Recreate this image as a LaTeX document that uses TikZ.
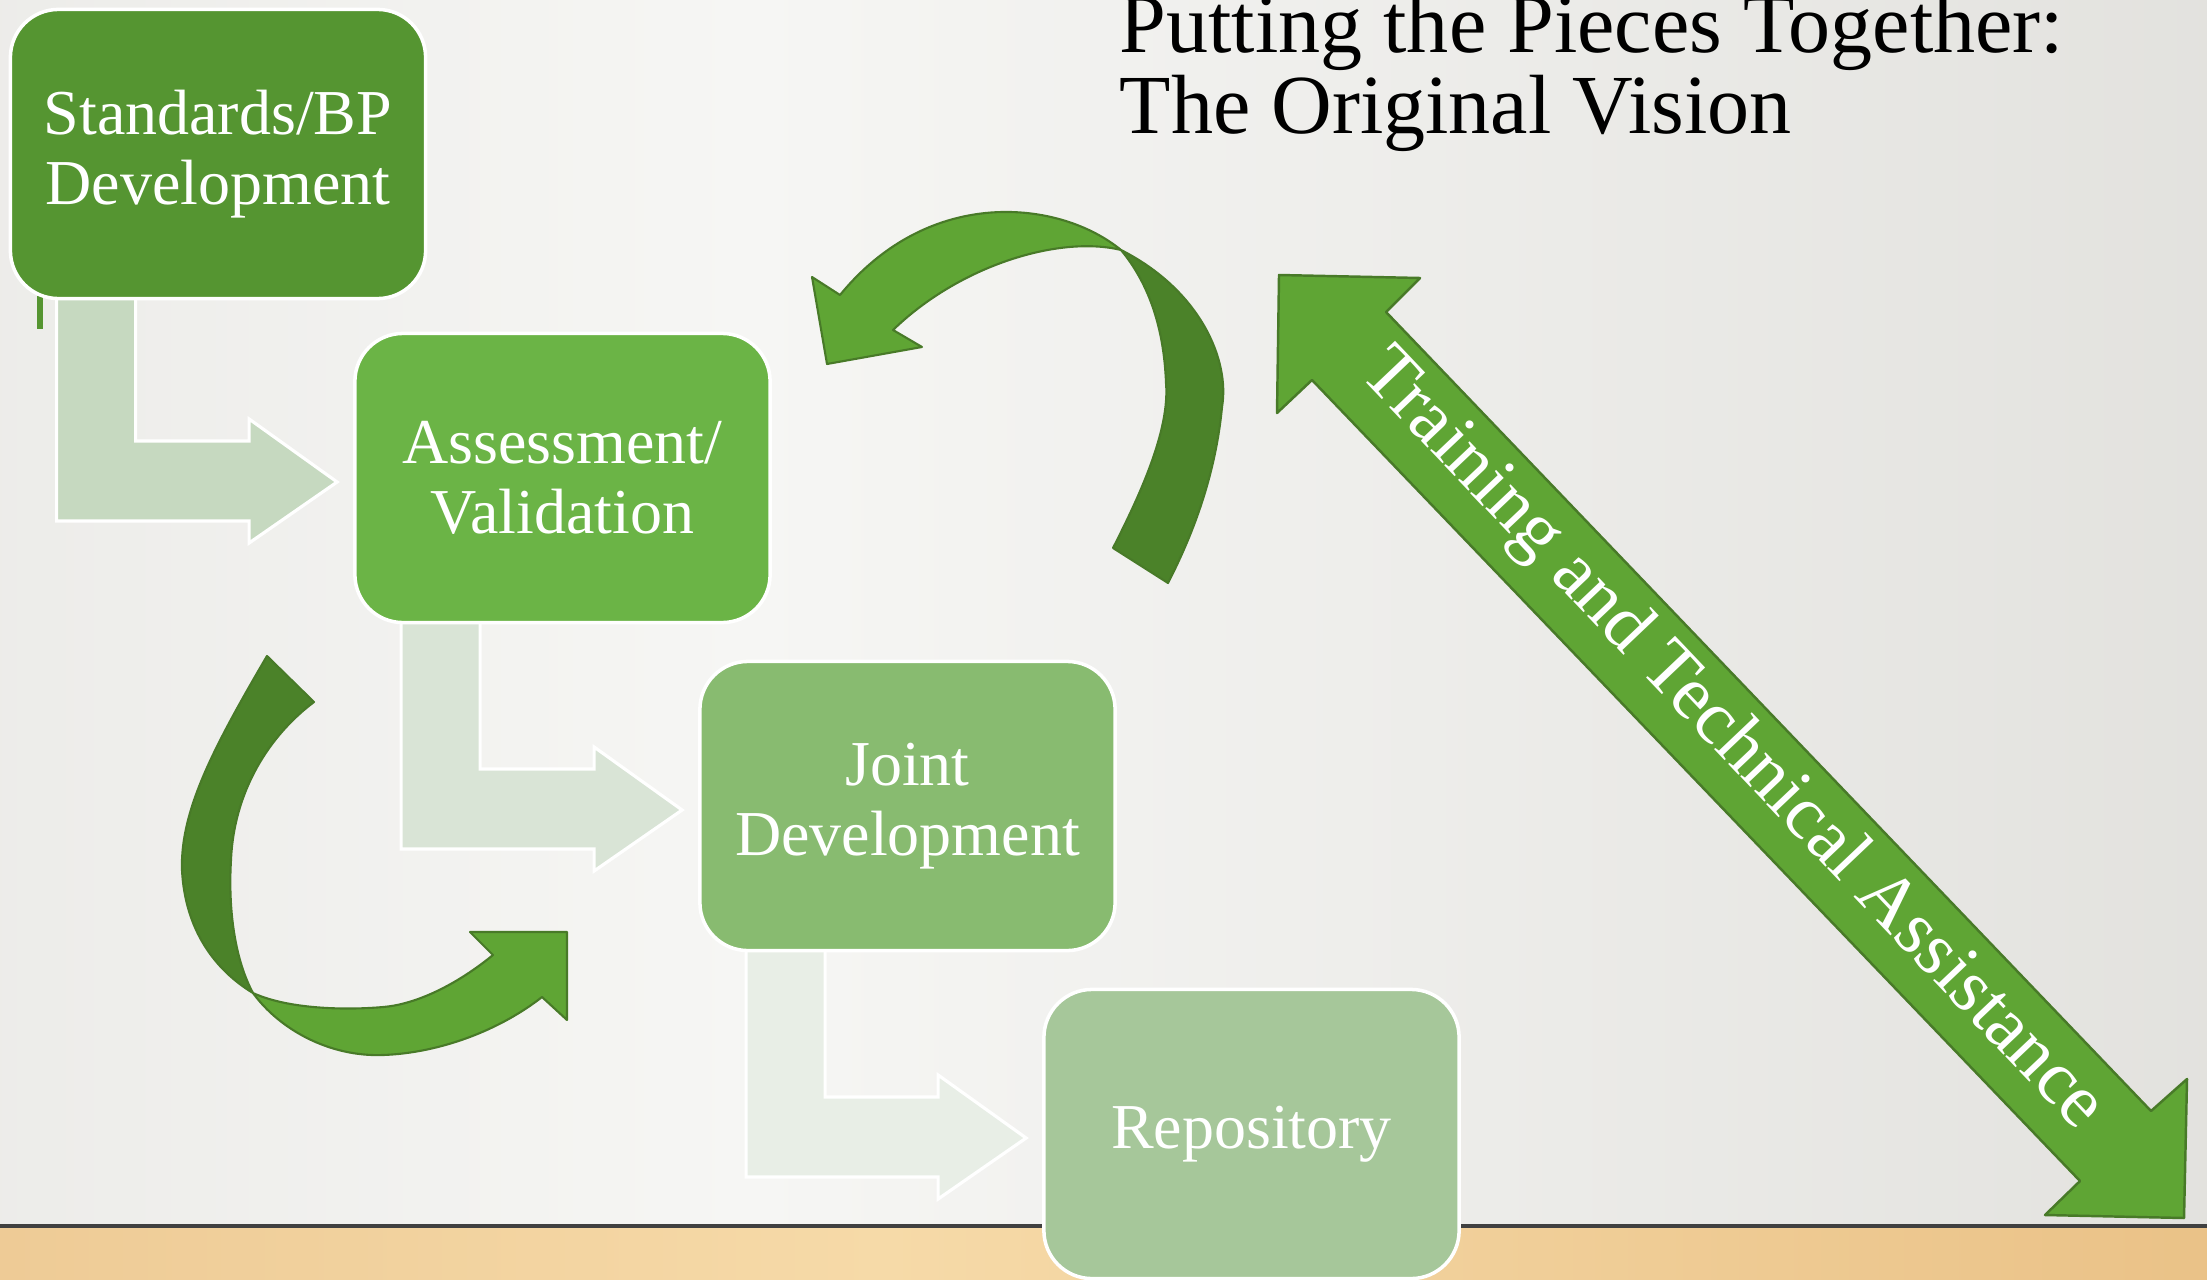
\documentclass[tikz,border=0pt]{standalone}
\usepackage{fontspec}
\setmainfont{Liberation Serif}
\usetikzlibrary{calc}

\definecolor{boxA}{RGB}{85,149,49}
\definecolor{boxB}{RGB}{107,180,70}
\definecolor{boxC}{RGB}{136,187,112}
\definecolor{boxD}{RGB}{166,199,154}
\definecolor{flowA}{RGB}{198,217,192}
\definecolor{flowB}{RGB}{217,228,214}
\definecolor{flowC}{RGB}{232,238,230}
\definecolor{ribbonlight}{RGB}{95,165,52}
\definecolor{ribbondark}{RGB}{75,130,41}
\definecolor{ribbonedge}{RGB}{72,122,40}
\definecolor{wallL}{RGB}{223,222,218}
\definecolor{wallM}{RGB}{246,246,244}
\definecolor{wallR}{RGB}{212,211,206}
\definecolor{woodA}{RGB}{212,172,122}
\definecolor{woodB}{RGB}{238,203,150}
\definecolor{woodC}{RGB}{246,218,168}
\definecolor{woodD}{RGB}{232,190,130}
\definecolor{woodE}{RGB}{220,175,118}

\pgfdeclarehorizontalshading{wall}{100bp}{color(0bp)=(wallL); color(42bp)=(wallM); color(100bp)=(wallR)}
\pgfdeclarehorizontalshading{floor}{100bp}{color(0bp)=(woodA); color(25bp)=(woodB); color(45bp)=(woodC); color(80bp)=(woodD); color(100bp)=(woodE)}

\pgfdeclarelayer{bg}
\pgfdeclarelayer{behind}
\pgfsetlayers{bg,behind,main}

\newcommand\boxfont{\fontsize{18.2}{19.9}\selectfont}
\newcommand\titlefont{\fontsize{23.9}{23.3}\selectfont}
\newcommand\bandfont{\fontsize{21.6}{24}\selectfont}

%% bent flow arrow from the bottom of one box to the left side of the next
\newcommand\stepflow[3]{%
  \fill[#3, draw=white, line width=0.9pt]
    ($(#1.south west)+(48,-5)$) |- ($(#2.west)+(-104,43)$) -- ++(0,22)
    -- ($(#2.west)+(-16,4)$) -- ($(#2.west)+(-104,-59)$) -- ++(0,22)
    -| ($(#1.south west)+(127,-5)$) -- cycle;}

\begin{document}
\begin{tikzpicture}%
	[x={(0.01cm,0cm)},
	y={(0cm,-0.01cm)},
	stage/.style={rectangle, rounded corners=0.48cm, draw=white, line width=1pt,
		minimum width=4.15cm, minimum height=2.89cm, inner sep=0pt,
		text=white, align=center, font=\boxfont},
	front/.style={fill=ribbonlight, draw=ribbonedge, line width=0.6pt, line join=round},
	back/.style={fill=ribbondark, draw=ribbonedge, line width=0.6pt, line join=round},
	band/.style={fill=ribbonlight, draw=ribbonedge, line width=0.7pt, line join=round},
	title/.style={anchor=base west, align=left, inner sep=0pt, font=\titlefont}]
%
\useasboundingbox (0,0) rectangle (2207,1279);
%%
%% Wall and floor
%%
\begin{pgfonlayer}{bg}
\shade[shading=wall] (0,0) rectangle (2207,1226);
\shade[shading=floor] (0,1226) rectangle (2207,1279);
\draw[black!75, line width=1.1pt] (0,1226) -- (2207,1226);
\end{pgfonlayer}
%%
%% Stages
%%
\node[stage, fill=boxA] (std) at (218,154) {Standards/BP\\Development};
\node[stage, fill=boxB] (assess) at (562.5,478) {Assessment/\\Validation};
\node[stage, fill=boxC] (joint) at (907.5,806) {Joint\\Development};
\node[stage, fill=boxD] (repo) at (1251.5,1134) {Repository};
%%
%% Flow between the stages
%%
\begin{pgfonlayer}{behind}
\stepflow{std}{assess}{flowA}
\stepflow{assess}{joint}{flowB}
\stepflow{joint}{repo}{flowC}
\fill[boxA] (37,296) rectangle (43,329);
\end{pgfonlayer}
%%
%% Loop back to Assessment/Validation
%%
\filldraw[back] (1121,250) .. controls (1200,290) and (1230,360) .. (1222,407)
	.. controls (1215,480) and (1190,540) .. (1168,583) -- (1113,548)
	.. controls (1140,495) and (1170,430) .. (1166,383)
	.. controls (1164,330) and (1150,285) .. (1121,250) -- cycle;
\filldraw[front] (1121,250) .. controls (1060,200) and (930,185) .. (840,295)
	-- (812,277) -- (827,364) -- (922,347) -- (893,330)
	.. controls (960,265) and (1060,235) .. (1121,250) -- cycle;
%%
%% Loop on to Joint Development
%%
\filldraw[back] (267,656) .. controls (215,745) and (180,810) .. (182,870)
	.. controls (185,930) and (215,970) .. (253,993)
	.. controls (235,960) and (228,910) .. (231,860)
	.. controls (234,790) and (270,735) .. (314,702) -- cycle;
\filldraw[front] (253,993) .. controls (280,1030) and (330,1057) .. (383,1055)
	.. controls (440,1053) and (500,1030) .. (542,997)
	-- (567,1020) -- (567,932) -- (470,932) -- (493,955)
	.. controls (450,990) and (410,1005) .. (383,1007)
	.. controls (350,1010) and (290,1010) .. (253,993) -- cycle;
%%
%% Training and Technical Assistance
%%
\filldraw[band] (1279,275) -- (1420,278) -- (1386,312) -- (2151,1111) -- (2187,1079)
	-- (2184,1218) -- (2045,1215) -- (2080,1181) -- (1312,380) -- (1277,413) -- cycle;
\node[rotate=-46.5, text=white, font=\bandfont, inner sep=0pt] (tta) at (1731,741)
	{Training and Technical Assistance};
%%
%% Title
%%
\node[title] (head) at (1119,134) {Putting the Pieces Together:\\The Original Vision};

\end{tikzpicture}
\end{document}
